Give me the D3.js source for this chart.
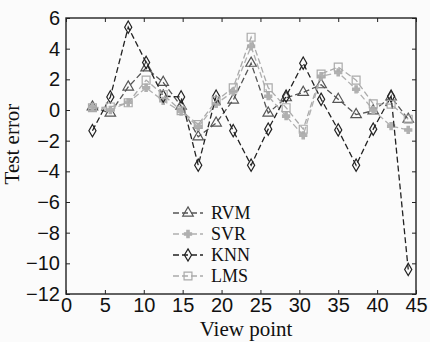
<!DOCTYPE html>
<html>
<head>
<meta charset="utf-8">
<script src="https://cdn.jsdelivr.net/npm/d3@7"></script>
<style>
  body { margin: 0; background: #fbfbfb; }
  svg { font-family: "Liberation Serif", "DejaVu Serif", serif; }
  .tick text { font-size: 20px; fill: #111; }
  .axis-label { font-size: 21px; fill: #111; }
  .legend text { font-size: 18px; fill: #111; }
</style>
</head>
<body>
<svg id="chart"></svg>
<script>
// view points where the errors were measured
var viewPoints = [3.4, 5.7, 8, 10.3, 12.5, 14.8, 17, 19.3, 21.5, 23.8, 26, 28.3, 30.5, 32.8, 35, 37.3, 39.5, 41.8, 44];

var rvm = [0.2, -0.2, 1.5, 2.75, 1.8, 0.25, -1.75, -0.85, 0.65, 3.05, -0.2, 0.8, 1.15, 1.65, 0.7, -0.3, -0.05, 0.85, -0.6];
var svr = [0.2, 0.0, 0.5, 1.45, 0.6, -0.1, -1.1, 0.4, 1.2, 4.15, 0.9, -0.4, -1.65, 2.2, 2.45, 1.35, 0.0, -1.05, -1.3];
var knn = [-1.35, 0.85, 5.4, 3.1, 0.9, 0.85, -3.6, 0.9, -1.35, -3.6, -1.25, 0.9, 3.05, 0.7, -1.3, -3.6, -1.25, 0.9, -10.4];
var lms = [0.15, 0.2, 0.47, 1.95, 1.0, -0.05, -0.95, 0.6, 1.45, 4.75, 1.45, 0.15, -1.25, 2.35, 2.8, 1.95, 0.4, 0.38, -0.6];

var xTicks = [0, 5, 10, 15, 20, 25, 30, 35, 40, 45];
var yTicks = [-12, -10, -8, -6, -4, -2, 0, 2, 4, 6];

var series = [
    {name: "RVM", values: rvm, color: "#555", symbol: d3.symbolTriangle, size: 48},
    {name: "SVR", values: svr, color: "#b0b0b0", symbol: d3.symbolCross, size: 28},
    {name: "KNN", values: knn, color: "#222", symbol: d3.symbolDiamond, size: 44},
    {name: "LMS", values: lms, color: "#aaa", symbol: d3.symbolSquare, size: 62}
];

var W = 430, H = 342;
var margin = {top: 18, right: 14, bottom: 48, left: 66},
    width = W - margin.left - margin.right,
    height = H - margin.top - margin.bottom;

var svg = d3.select("#chart")
    .attr("width", W)
    .attr("height", H)
    .append("g")
    .attr("transform", "translate(" + margin.left + "," + margin.top + ")");

var x = d3.scaleLinear().domain([0, 45]).range([0, width]);
var y = d3.scaleLinear().domain([-12, 6]).range([height, 0]);

// box
svg.append("rect")
    .attr("width", width)
    .attr("height", height)
    .attr("fill", "none")
    .attr("stroke", "#222")
    .attr("stroke-width", 1.4);

// bottom + left axes with inward ticks
var xAxis = svg.append("g")
    .attr("transform", "translate(0," + height + ")")
    .call(d3.axisBottom(x).tickValues(xTicks).tickSizeInner(-4).tickSizeOuter(0).tickPadding(8));
var yAxis = svg.append("g")
    .call(d3.axisLeft(y).tickValues(yTicks).tickSizeInner(-4).tickSizeOuter(0).tickPadding(6)
        .tickFormat(function(d) { return d < 0 ? "\u2212" + Math.abs(d) : d; }));
// top + right mirrored ticks
var xTop = svg.append("g")
    .call(d3.axisTop(x).tickValues(xTicks).tickSizeInner(-4).tickSizeOuter(0).tickFormat(""));
var yRight = svg.append("g")
    .attr("transform", "translate(" + width + ",0)")
    .call(d3.axisRight(y).tickValues(yTicks).tickSizeInner(-4).tickSizeOuter(0).tickFormat(""));

[xAxis, yAxis, xTop, yRight].forEach(function(g) {
    g.select(".domain").remove();
    g.selectAll(".tick line").attr("stroke", "#222");
});
xAxis.selectAll(".tick text").attr("dy", "0.5em");

// lines + markers
var line = d3.line()
    .x(function(d, i) { return x(viewPoints[i]); })
    .y(function(d) { return y(d); });

series.forEach(function(s) {
    svg.append("path")
        .datum(s.values)
        .attr("fill", "none")
        .attr("stroke", s.color)
        .attr("stroke-width", 1.3)
        .attr("stroke-dasharray", "6,3")
        .attr("d", line);

    svg.selectAll(".m-" + s.name)
        .data(s.values)
        .enter().append("path")
        .attr("class", "m-" + s.name)
        .attr("transform", function(d, i) { return "translate(" + x(viewPoints[i]) + "," + y(d) + ")"; })
        .attr("d", d3.symbol().type(s.symbol).size(s.size))
        .attr("fill", s.symbol === d3.symbolCross ? s.color : "none")
        .attr("stroke", s.color)
        .attr("stroke-width", 1.2);
});

// legend
var legend = svg.append("g")
    .attr("class", "legend")
    .attr("transform", "translate(107,195)");

series.forEach(function(s, i) {
    var row = legend.append("g").attr("transform", "translate(0," + (i * 21) + ")");
    row.append("line")
        .attr("x1", 0).attr("x2", 30)
        .attr("stroke", s.color)
        .attr("stroke-width", 1.3)
        .attr("stroke-dasharray", "6,3");
    row.append("path")
        .attr("transform", "translate(15,0)")
        .attr("d", d3.symbol().type(s.symbol).size(s.size))
        .attr("fill", s.symbol === d3.symbolCross ? s.color : "none")
        .attr("stroke", s.color)
        .attr("stroke-width", 1.2);
    row.append("text")
        .attr("x", 38)
        .attr("dy", "0.35em")
        .text(s.name);
});

// axis labels
svg.append("text")
    .attr("class", "axis-label")
    .attr("transform", "rotate(-90)")
    .attr("x", -height / 2 + 12)
    .attr("y", -margin.left + 19)
    .attr("text-anchor", "middle")
    .text("Test error");

svg.append("text")
    .attr("class", "axis-label")
    .attr("x", width / 2 + 5)
    .attr("y", height + margin.bottom - 6)
    .attr("text-anchor", "middle")
    .text("View point");
</script>
</body>
</html>
